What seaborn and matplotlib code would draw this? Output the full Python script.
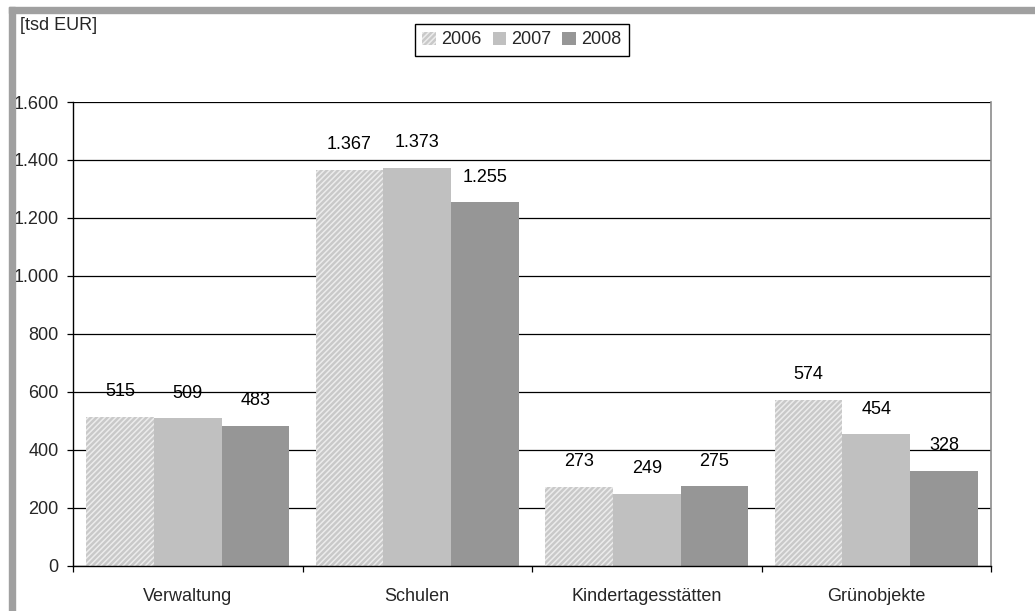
import matplotlib
matplotlib.use("Agg")
import matplotlib.pyplot as plt
from matplotlib.patches import Patch, Rectangle
from matplotlib.ticker import FuncFormatter
import seaborn as sns
import pandas as pd

# Costs per building group, in thousand EUR
categories = ["Verwaltung", "Schulen", "Kindertagesstätten", "Grünobjekte"]
years = ["2006", "2007", "2008"]
values_2006 = [515, 1367, 273, 574]
values_2007 = [509, 1373, 249, 454]
values_2008 = [483, 1255, 275, 328]
unit_label = "[tsd EUR]"

colors = {"2006": "#c9c9c9", "2007": "#c0c0c0", "2008": "#969696"}
FS = 13

df = pd.DataFrame({
    "Kategorie": categories * 3,
    "Jahr": [y for y in years for _ in categories],
    "Wert": values_2006 + values_2007 + values_2008,
})

sns.set_style("white")
plt.rcParams["font.family"] = ["Liberation Sans", "DejaVu Sans"]
plt.rcParams["hatch.linewidth"] = 1.1
plt.rcParams["hatch.color"] = "#ececec"

fig = plt.figure(figsize=(10.35, 6.11), dpi=100)
ax = fig.add_axes([73 / 1035, 1 - 566 / 611, (991 - 73) / 1035, (566 - 102) / 611])

sns.barplot(data=df, x="Kategorie", y="Wert", hue="Jahr", order=categories,
            hue_order=years, palette=colors, width=0.885, saturation=1,
            linewidth=0, errorbar=None, legend=False, ax=ax)

def de_fmt(v, pos=None):
    return f"{int(round(v)):,}".replace(",", ".")

HATCH = "//////"

# hatch the first series and write the value above every bar
for container, year in zip(ax.containers, years):
    for bar in container:
        if year == "2006":
            bar.set_hatch(HATCH)
            bar.set_edgecolor("#ececec")
            bar.set_linewidth(0)
        h = bar.get_height()
        ax.annotate(de_fmt(h), (bar.get_x() + bar.get_width() / 2, h),
                    xytext=(0, 18), textcoords="offset points",
                    ha="center", va="center", fontsize=FS, color="black")

ax.set_ylim(0, 1600)
ax.set_xlim(-0.5, len(categories) - 0.5)
ax.set_yticks(range(0, 1601, 200))
ax.yaxis.set_major_formatter(FuncFormatter(de_fmt))
ax.yaxis.grid(True, color="black", linewidth=0.9)
ax.set_axisbelow(True)

# category separators as major ticks, names as minor ticks
ax.set_xticks([i - 0.5 for i in range(len(categories) + 1)])
ax.set_xticklabels([""] * (len(categories) + 1))
ax.set_xticks(range(len(categories)), minor=True)
ax.set_xticklabels(categories, minor=True)
ax.tick_params(axis="x", which="major", direction="out", length=4.5, width=0.9,
               color="black", bottom=True)
ax.tick_params(axis="x", which="minor", length=0, pad=16, labelsize=FS)
ax.tick_params(axis="y", direction="out", length=4.5, width=0.9, color="black",
               left=True, pad=6, labelsize=FS)
ax.set_xlabel("")
ax.set_ylabel("")

for side in ("left", "bottom"):
    ax.spines[side].set_color("black")
    ax.spines[side].set_linewidth(1.0)
ax.spines["right"].set_color("#8c8c8c")
ax.spines["right"].set_linewidth(1.2)
ax.spines["top"].set_visible(False)

handles = [Patch(facecolor=colors[y], edgecolor="#ececec", linewidth=0,
                 hatch=HATCH if y == "2006" else None, label=y) for y in years]
fig.legend(handles=handles, loc="center", bbox_to_anchor=(522 / 1035, 1 - 40 / 611),
           ncol=3, frameon=True, fancybox=False, edgecolor="black",
           fontsize=FS, handlelength=0.75, handleheight=0.75, handletextpad=0.3,
           columnspacing=0.6, borderpad=0.4, framealpha=1)

fig.text(20 / 1035, 1 - 26 / 611, unit_label, ha="left", va="center", fontsize=FS)

# grey frame along the top and left edges
fig.patches.append(Rectangle((9 / 1035, 1 - 13 / 611), 1 - 9 / 1035, 6 / 611,
                             transform=fig.transFigure, color="#a0a0a0", zorder=0))
fig.patches.append(Rectangle((9 / 1035, 0), 6 / 1035, 1 - 7 / 611,
                             transform=fig.transFigure, color="#a0a0a0", zorder=0))

fig.savefig("out.png", dpi=100)
